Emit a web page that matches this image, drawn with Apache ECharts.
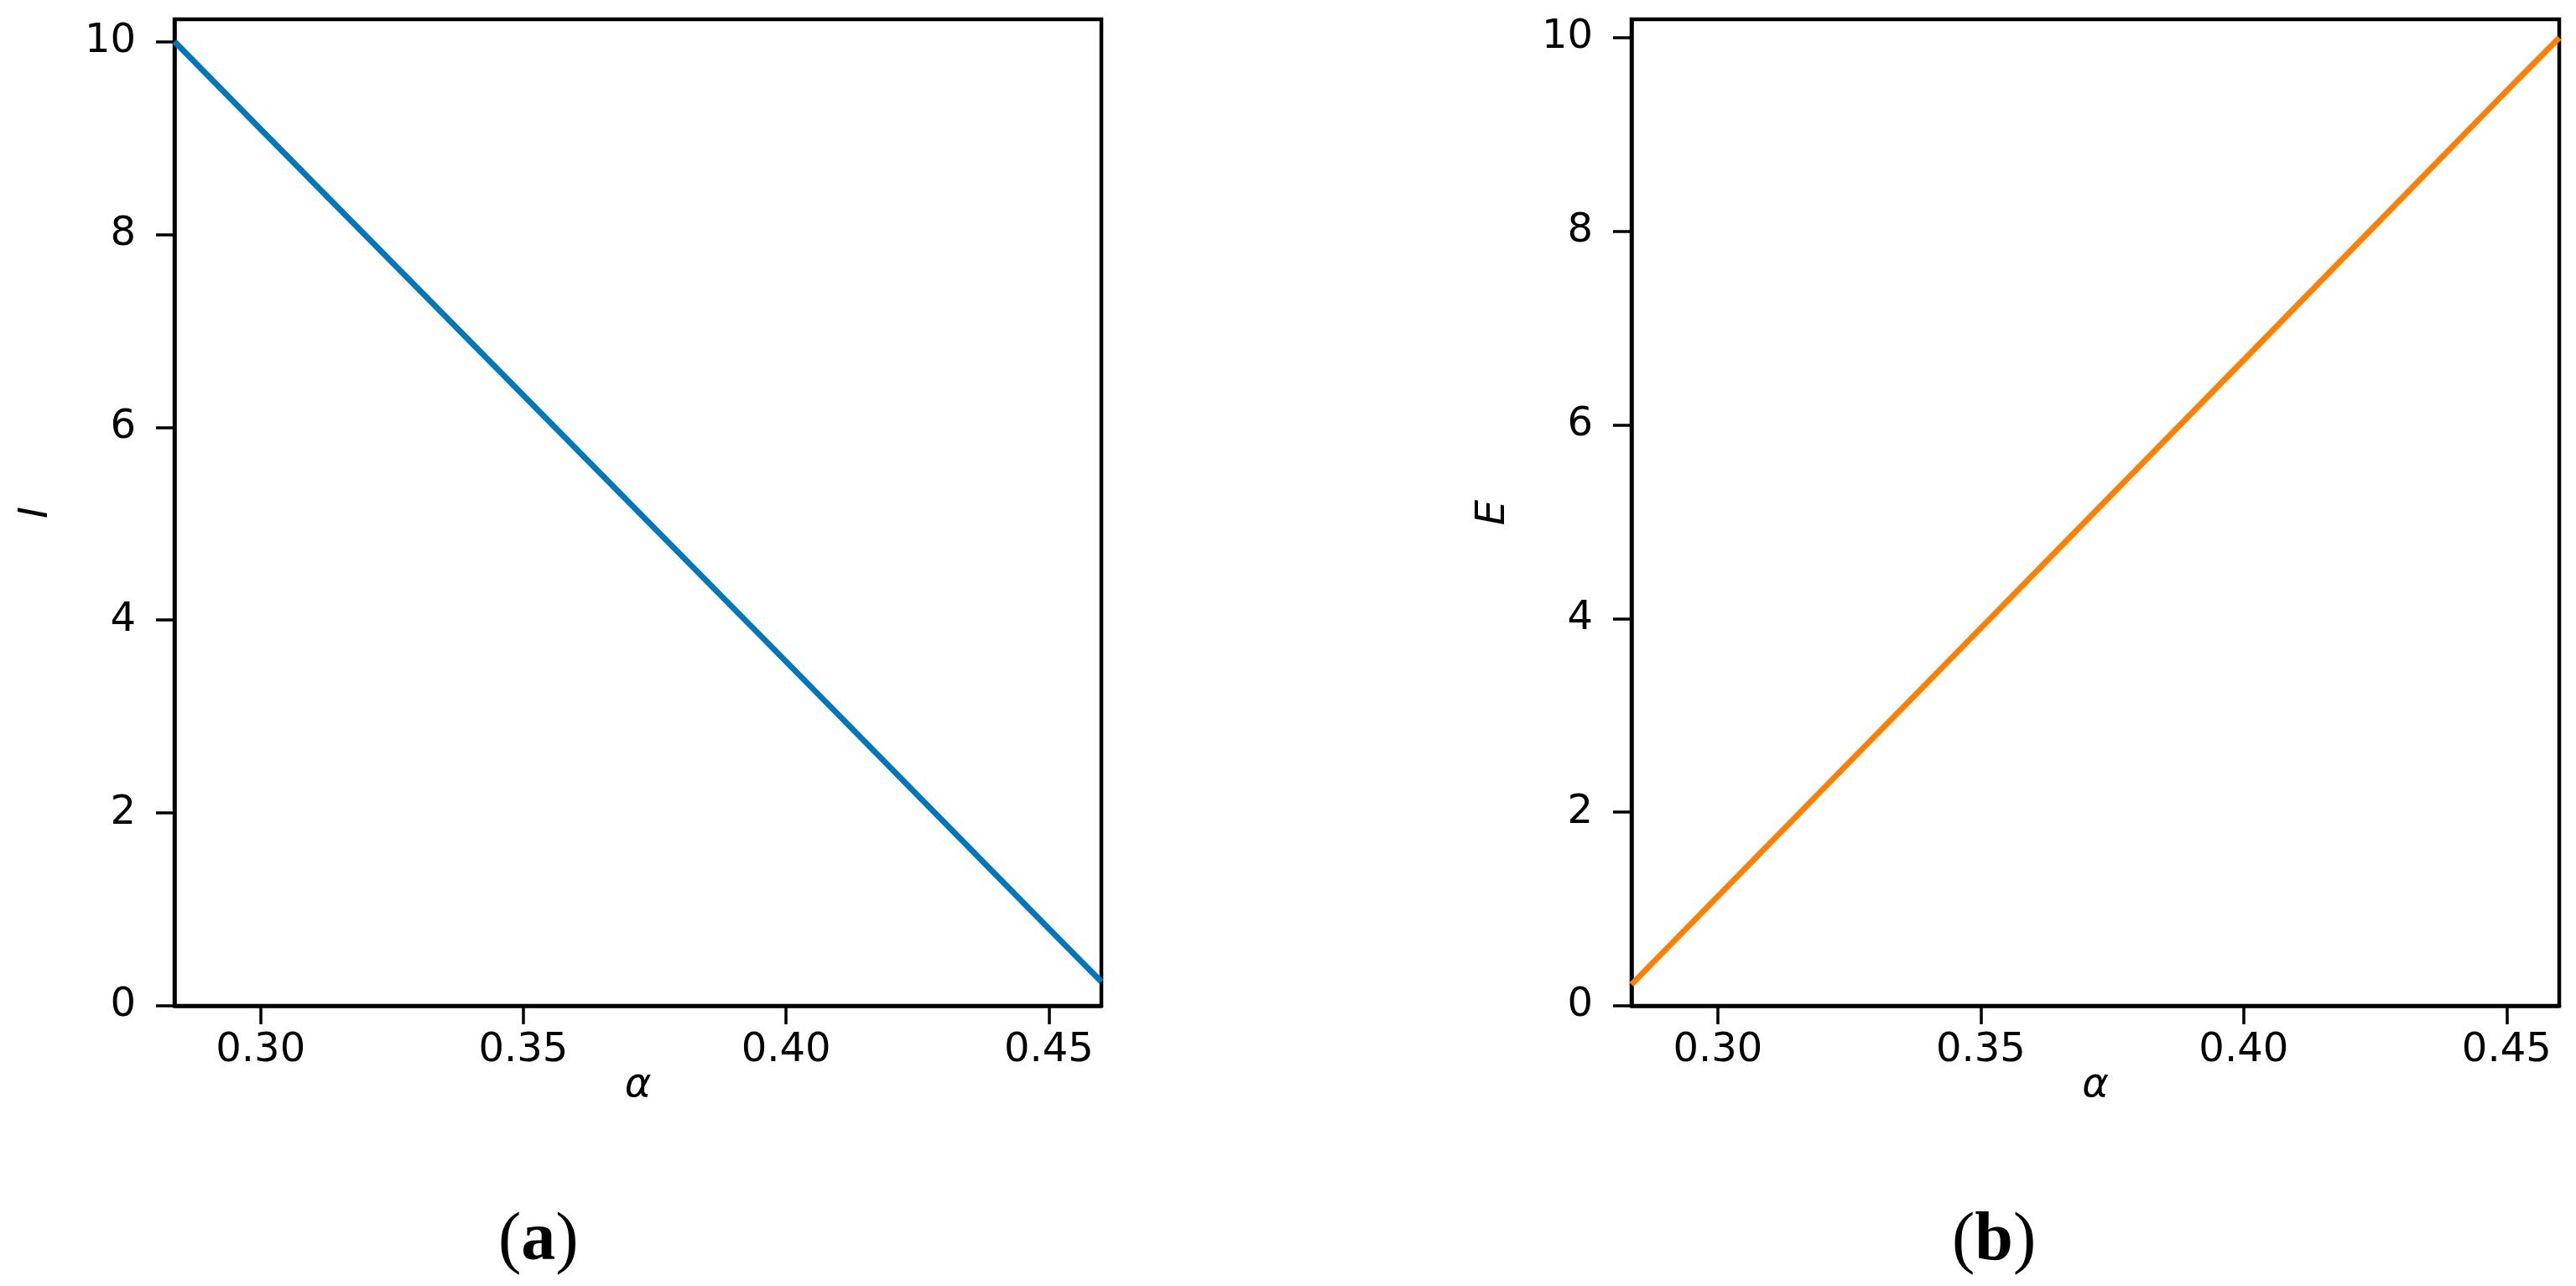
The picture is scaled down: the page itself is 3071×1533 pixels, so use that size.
<!DOCTYPE html>
<html>
<head>
<meta charset="utf-8">
<script src="https://cdn.jsdelivr.net/npm/echarts@6/dist/echarts.min.js"></script>
<style>
html,body{margin:0;padding:0;background:#fff;}
#chart{width:3071px;height:1533px;}
</style>
</head>
<body>
<div id="chart"></div>
<script>
// ---- data ----
const alpha = [0.2836, 0.30, 0.35, 0.40, 0.45, 0.46];
const valuesI = [10.0, 9.09, 6.33, 3.57, 0.80, 0.25];
const valuesE = [0.22, 1.13, 3.90, 6.67, 9.45, 10.0];
const xTicks = [0.30, 0.35, 0.40, 0.45];
const yTicks = [0, 2, 4, 6, 8, 10];
const xRange = [0.2836, 0.46];
const yMaxI = 10.23;
const yMaxE = 10.19;
const nameI = 'I';
const nameE = 'E';
const nameX = 'α';
const captions = ['a', 'b'];

const chart = echarts.init(document.getElementById('chart'), null, {renderer: 'canvas'});
const FONT = 'DejaVu Sans';
const LABEL_SIZE = 48;

function xAxisCfg(gridIndex) {
  return {
    type: 'value', gridIndex, min: xRange[0], max: xRange[1],
    name: nameX, nameLocation: 'middle', nameGap: 72, nameMoveOverlap: false,
    nameTextStyle: {fontFamily: FONT, fontStyle: 'italic', fontSize: LABEL_SIZE, color: '#000'},
    axisLine: {show: true, onZero: false, lineStyle: {color: '#000', width: 4.5}},
    axisTick: {show: true, inside: false, length: 22, lineStyle: {color: '#000', width: 3.5}, customValues: xTicks},
    axisLabel: {show: true, margin: 30, fontFamily: FONT, fontSize: LABEL_SIZE, color: '#000',
      customValues: xTicks, formatter: v => v.toFixed(2)},
    splitLine: {show: false}
  };
}
function yAxisCfg(gridIndex, name, ymax) {
  return {
    type: 'value', gridIndex, min: 0, max: ymax,
    name: name, nameLocation: 'middle', nameGap: 140, nameRotate: 90, nameMoveOverlap: false,
    nameTextStyle: {fontFamily: FONT, fontStyle: 'italic', fontSize: LABEL_SIZE, color: '#000'},
    axisLine: {show: true, onZero: false, lineStyle: {color: '#000', width: 4.5}},
    axisTick: {show: true, inside: false, length: 22, lineStyle: {color: '#000', width: 3.5}, customValues: yTicks},
    axisLabel: {show: true, margin: 46, fontFamily: FONT, fontSize: LABEL_SIZE, color: '#000',
      customValues: yTicks},
    splitLine: {show: false}
  };
}
function captionCfg(letter, cx) {
  return {
    text: '{p|(}{b|' + letter + '}{p|)}',
    left: cx - 46, top: 1434,
    textStyle: {
      rich: {
        p: {fontFamily: 'Liberation Serif', fontSize: 82, color: '#000', fontWeight: 'normal'},
        b: {fontFamily: 'Liberation Serif', fontSize: 82, color: '#000', fontWeight: 'bold'}
      }
    }
  };
}

const option = {
  backgroundColor: '#fff',
  animation: false,
  title: [captionCfg(captions[0], 635), captionCfg(captions[1], 2368)],
  grid: [
    {left: 208, top: 23, width: 1105, height: 1176, show: true, borderColor: '#000', borderWidth: 4.5, backgroundColor: 'transparent'},
    {left: 1945, top: 23, width: 1106, height: 1176, show: true, borderColor: '#000', borderWidth: 4.5, backgroundColor: 'transparent'}
  ],
  xAxis: [xAxisCfg(0), xAxisCfg(1)],
  yAxis: [yAxisCfg(0, nameI, yMaxI), yAxisCfg(1, nameE, yMaxE)],
  series: [
    {type: 'line', xAxisIndex: 0, yAxisIndex: 0, showSymbol: false, symbol: 'none',
      lineStyle: {color: '#0077bb', width: 7}, itemStyle: {color: '#0077bb'},
      data: alpha.map((a, i) => [a, valuesI[i]])},
    {type: 'line', xAxisIndex: 1, yAxisIndex: 1, showSymbol: false, symbol: 'none',
      lineStyle: {color: '#ff8000', width: 7}, itemStyle: {color: '#ff8000'},
      data: alpha.map((a, i) => [a, valuesE[i]])}
  ]
};
chart.setOption(option);
</script>
</body>
</html>
